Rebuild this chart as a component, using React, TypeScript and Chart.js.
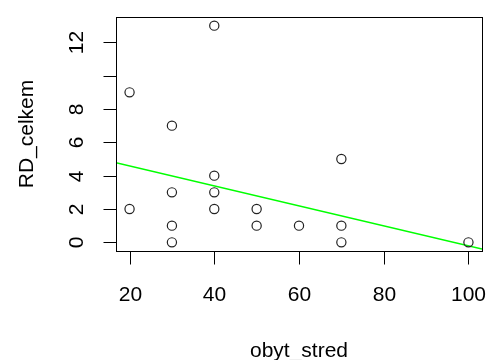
import React, { useEffect, useRef } from "react";
import { Chart, registerables } from "chart.js";

Chart.register(...registerables);

const xValues = [20, 20, 30, 30, 30, 30, 40, 40, 40, 40, 50, 50, 60, 70, 70, 70, 100];
const yValues = [9, 2, 7, 3, 1, 0, 13, 4, 3, 2, 2, 1, 1, 5, 1, 0, 0];
const fitX = [16.8, 103.2];
const fitY = [4.78, -0.4];
const xTicks = [20, 40, 60, 80, 100];
const xTickLabels = ["20", "40", "60", "80", "100"];
const yTicks = [0, 2, 4, 6, 8, 10, 12];
const yTickLabels = ["0", "2", "4", "6", "8", "", "12"];
const xTitle = "obyt_stred";
const yTitle = "RD_celkem";

const FONT = '21px "Liberation Sans", Arial, sans-serif';

const rAxesPlugin = {
  id: "rAxes",
  afterDraw(chart: any) {
    const ctx = chart.ctx as CanvasRenderingContext2D;
    const a = chart.chartArea;
    const xs = chart.scales.x;
    const ys = chart.scales.y;
    ctx.save();
    ctx.strokeStyle = "#000";
    ctx.lineWidth = 1;
    ctx.strokeRect(Math.round(a.left) + 0.5, Math.round(a.top) + 0.5, Math.round(a.right - a.left), Math.round(a.bottom - a.top));
    ctx.fillStyle = "#000";
    ctx.font = FONT;
    const xb = Math.round(a.bottom) + 0.5;
    ctx.textAlign = "center";
    ctx.textBaseline = "alphabetic";
    xTicks.forEach((v, i) => {
      const px = Math.round(xs.getPixelForValue(v)) + 0.5;
      ctx.beginPath();
      ctx.moveTo(px, xb);
      ctx.lineTo(px, xb + 13);
      ctx.stroke();
      ctx.fillText(xTickLabels[i], px, 301);
    });
    const yl = Math.round(a.left) + 0.5;
    yTicks.forEach((v, i) => {
      const py = Math.round(ys.getPixelForValue(v)) + 0.5;
      ctx.beginPath();
      ctx.moveTo(yl, py);
      ctx.lineTo(yl - 13, py);
      ctx.stroke();
      if (yTickLabels[i]) {
        ctx.save();
        ctx.translate(83, py);
        ctx.rotate(-Math.PI / 2);
        ctx.textAlign = "center";
        ctx.fillText(yTickLabels[i], 0, 0);
        ctx.restore();
      }
    });
    ctx.textAlign = "center";
    ctx.fillText(xTitle, (a.left + a.right) / 2, 357);
    ctx.save();
    ctx.translate(33, (a.top + a.bottom) / 2);
    ctx.rotate(-Math.PI / 2);
    ctx.fillText(yTitle, 0, 0);
    ctx.restore();
    ctx.restore();
  },
};

export default function App() {
  const ref = useRef<HTMLCanvasElement>(null);
  useEffect(() => {
    if (!ref.current) return;
    const chart = new Chart(ref.current, {
      type: "scatter",
      data: {
        datasets: [
          {
            data: xValues.map((x, i) => ({ x, y: yValues[i] })),
            pointStyle: "circle",
            pointRadius: 4.6,
            pointBorderWidth: 1.2,
            pointBorderColor: "#222",
            pointBackgroundColor: "rgba(0,0,0,0)",
            showLine: false,
          },
          {
            type: "line",
            data: fitX.map((x, i) => ({ x, y: fitY[i] })),
            borderColor: "#00ff00",
            borderWidth: 1.5,
            pointRadius: 0,
            showLine: true,
            fill: false,
          },
        ],
      } as any,
      options: {
        responsive: false,
        animation: false,
        events: [],
        layout: { padding: { left: 116, right: 6, top: 17, bottom: 109 } },
        plugins: { legend: { display: false }, tooltip: { enabled: false } },
        scales: {
          x: { type: "linear", min: 16.8, max: 103.2, display: false },
          y: { type: "linear", min: -0.52, max: 13.52, display: false },
        },
      },
      plugins: [rAxesPlugin],
    });
    return () => chart.destroy();
  }, []);
  return (
    <div style={{ position: "absolute", left: 0, top: 0, width: 488, height: 360, background: "#fff" }}>
      <canvas ref={ref} width={488} height={360} />
    </div>
  );
}
